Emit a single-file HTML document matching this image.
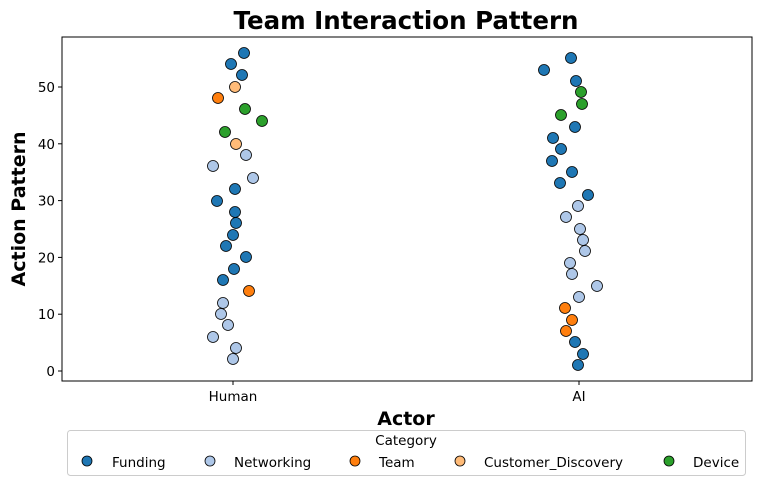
<!DOCTYPE html>
<html><head><meta charset="utf-8"><style>body{margin:0;background:#fff}svg{display:block;font-family:"DejaVu Sans","Liberation Sans",sans-serif}</style></head><body>
<svg width="760" height="485" viewBox="0 0 760 485">
<rect width="760" height="485" fill="#fff"/>
<text x="406" y="29" font-size="24.5" font-weight="bold" text-anchor="middle">Team Interaction Pattern</text>
<rect x="62" y="37" width="690" height="344" fill="none" stroke="#000" stroke-width="1"/>
<g font-size="13.5" text-anchor="end">
<line x1="58" y1="371" x2="62" y2="371" stroke="#000"/><text x="55" y="376">0</text>
<line x1="58" y1="314.2" x2="62" y2="314.2" stroke="#000"/><text x="55" y="319.2">10</text>
<line x1="58" y1="257.4" x2="62" y2="257.4" stroke="#000"/><text x="55" y="262.4">20</text>
<line x1="58" y1="200.6" x2="62" y2="200.6" stroke="#000"/><text x="55" y="205.6">30</text>
<line x1="58" y1="143.8" x2="62" y2="143.8" stroke="#000"/><text x="55" y="148.8">40</text>
<line x1="58" y1="87" x2="62" y2="87" stroke="#000"/><text x="55" y="92">50</text>
</g>
<g font-size="13.5" text-anchor="middle">
<line x1="233" y1="381" x2="233" y2="385" stroke="#000"/><text x="233" y="401">Human</text>
<line x1="579" y1="381" x2="579" y2="385" stroke="#000"/><text x="579" y="401">AI</text>
</g>
<text x="406" y="425" font-size="19" font-weight="bold" text-anchor="middle">Actor</text>
<text transform="translate(25,209) rotate(-90)" font-size="19" font-weight="bold" text-anchor="middle">Action Pattern</text>
<g stroke="#000" stroke-width="0.8">
<g fill="#1f77b4">
<circle cx="244" cy="53" r="5.5"/><circle cx="231" cy="64" r="5.5"/><circle cx="242" cy="75" r="5.5"/><circle cx="217" cy="201" r="5.5"/><circle cx="235" cy="189" r="5.5"/><circle cx="235" cy="212" r="5.5"/><circle cx="236" cy="223" r="5.5"/><circle cx="233" cy="235" r="5.5"/><circle cx="226" cy="246" r="5.5"/><circle cx="246" cy="257" r="5.5"/><circle cx="234" cy="269" r="5.5"/><circle cx="223" cy="280" r="5.5"/>
<circle cx="571" cy="58" r="5.5"/><circle cx="544" cy="70" r="5.5"/><circle cx="576" cy="81" r="5.5"/><circle cx="575" cy="127" r="5.5"/><circle cx="553" cy="138" r="5.5"/><circle cx="561" cy="149" r="5.5"/><circle cx="552" cy="161" r="5.5"/><circle cx="572" cy="172" r="5.5"/><circle cx="560" cy="183" r="5.5"/><circle cx="588" cy="195" r="5.5"/><circle cx="575" cy="342" r="5.5"/><circle cx="583" cy="354" r="5.5"/><circle cx="578" cy="365" r="5.5"/>
</g>
<g fill="#aec7e8">
<circle cx="246" cy="155" r="5.5"/><circle cx="213" cy="166" r="5.5"/><circle cx="253" cy="178" r="5.5"/><circle cx="223" cy="303" r="5.5"/><circle cx="221" cy="314" r="5.5"/><circle cx="228" cy="325" r="5.5"/><circle cx="213" cy="337" r="5.5"/><circle cx="236" cy="348" r="5.5"/><circle cx="233" cy="359" r="5.5"/>
<circle cx="578" cy="206" r="5.5"/><circle cx="566" cy="217" r="5.5"/><circle cx="580" cy="229" r="5.5"/><circle cx="583" cy="240" r="5.5"/><circle cx="585" cy="251" r="5.5"/><circle cx="570" cy="263" r="5.5"/><circle cx="572" cy="274" r="5.5"/><circle cx="597" cy="286" r="5.5"/><circle cx="579" cy="297" r="5.5"/>
</g>
<g fill="#ff7f0e">
<circle cx="218" cy="98" r="5.5"/><circle cx="249" cy="291" r="5.5"/>
<circle cx="565" cy="308" r="5.5"/><circle cx="572" cy="320" r="5.5"/><circle cx="566" cy="331" r="5.5"/>
</g>
<g fill="#ffbb78"><circle cx="235" cy="87" r="5.5"/><circle cx="236" cy="144" r="5.5"/></g>
<g fill="#2ca02c">
<circle cx="245" cy="109" r="5.5"/><circle cx="262" cy="121" r="5.5"/><circle cx="225" cy="132" r="5.5"/>
<circle cx="581" cy="92" r="5.5"/><circle cx="582" cy="104" r="5.5"/><circle cx="561" cy="115" r="5.5"/>
</g>
</g>
<rect x="67.5" y="430.5" width="678" height="45" rx="3" fill="#fff" stroke="#ccc"/>
<text x="406" y="445" font-size="13.5" text-anchor="middle">Category</text>
<g stroke="#000" stroke-width="0.8">
<circle cx="87" cy="461" r="5" fill="#1f77b4"/>
<circle cx="210" cy="461" r="5" fill="#aec7e8"/>
<circle cx="355" cy="461" r="5" fill="#ff7f0e"/>
<circle cx="460" cy="461" r="5" fill="#ffbb78"/>
<circle cx="669" cy="461" r="5" fill="#2ca02c"/>
</g>
<g font-size="13.5">
<text x="112" y="467">Funding</text>
<text x="234" y="467">Networking</text>
<text x="379" y="467">Team</text>
<text x="484" y="467">Customer_Discovery</text>
<text x="693" y="467">Device</text>
</g>
</svg>
</body></html>
